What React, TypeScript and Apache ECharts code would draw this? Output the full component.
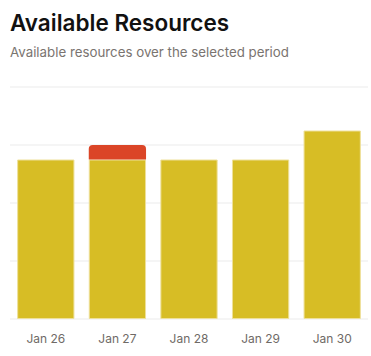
import React, { useEffect, useRef } from "react";
import * as echarts from "echarts";

const categories = ["Jan 26", "Jan 27", "Jan 28", "Jan 29", "Jan 30"];
const available = [11, 11, 11, 11, 13];
const overflow = [null, 1, null, null, null];
const yTicks = { min: 0, max: 16, interval: 4 };

export default function App() {
  const ref = useRef<HTMLDivElement>(null);
  useEffect(() => {
    if (!ref.current) return;
    const chart = echarts.init(ref.current, null, { renderer: "svg" });
    chart.setOption({
      animation: false,
      title: {
        text: "Available Resources",
        subtext: "Available resources over the selected period",
        left: 5,
        top: 6,
        itemGap: 11,
        textStyle: { fontFamily: "Inter", fontSize: 22.5, fontWeight: 600, color: "#111111" },
        subtextStyle: { fontFamily: "Inter", fontSize: 13.3, color: "#7a7470" },
      },
      grid: { left: 10, right: 3, top: 87, bottom: 37 },
      xAxis: {
        type: "category",
        data: categories,
        axisLine: { show: false },
        axisTick: { show: false },
        axisLabel: { color: "#6f6a66", fontSize: 12, fontFamily: "Inter", margin: 13 },
      },
      yAxis: {
        type: "value",
        min: yTicks.min,
        max: yTicks.max,
        interval: yTicks.interval,
        axisLabel: { show: false },
        axisLine: { show: false },
        axisTick: { show: false },
        splitLine: { lineStyle: { color: "#f2f2f2", width: 1.5 } },
      },
      series: [
        {
          type: "bar",
          stack: "total",
          data: available,
          barCategoryGap: "20%",
          itemStyle: { color: "#d7bd25", borderColor: "#eee09a", borderWidth: 1 },
        },
        {
          type: "bar",
          stack: "total",
          data: overflow,
          itemStyle: { color: "#db4527", borderRadius: [4, 4, 0, 0] },
        },
      ],
    });
    return () => chart.dispose();
  }, []);
  return (
    <div
      ref={ref}
      style={{ position: "fixed", left: 0, top: 0, width: 371, height: 356, background: "#fff" }}
    />
  );
}
